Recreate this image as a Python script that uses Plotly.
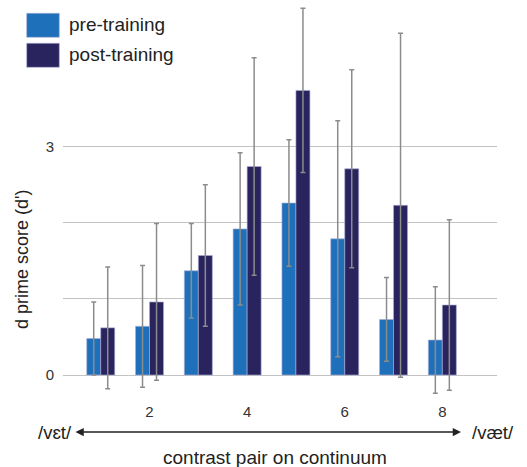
import plotly.graph_objects as go

# contrast pairs along the /vɛt/ - /væt/ continuum
pairs = [1, 2, 3, 4, 5, 6, 7, 8]
pre_mean = [0.48, 0.64, 1.37, 1.92, 2.26, 1.79, 0.73, 0.46]
pre_err = [0.48, 0.80, 0.62, 1.00, 0.83, 1.55, 0.55, 0.70]
post_mean = [0.62, 0.96, 1.57, 2.74, 3.74, 2.71, 2.23, 0.92]
post_err = [0.80, 1.03, 0.93, 1.43, 1.08, 1.30, 2.26, 1.12]
x_ticks = [2, 4, 6, 8]
y_ticks = [0, 1, 2, 3]
y_labels = ["0", "", "", "3"]
series_names = ["pre-training", "post-training"]

PRE_COLOR = "#1f70ba"
POST_COLOR = "#29235e"
ERR_COLOR = "#8c8c8c"
FONT = "Liberation Sans, Arial, sans-serif"

W, H = 527, 467
L, R, T, B = 63, 30, 0, 69
pw, ph = W - L - R, H - T - B


def px(x):
    return (x - L) / pw


def py(y):
    return (H - B - y) / ph


fig = go.Figure()
for name, mean, err, color in [
    (series_names[0], pre_mean, pre_err, PRE_COLOR),
    (series_names[1], post_mean, post_err, POST_COLOR),
]:
    fig.add_trace(go.Bar(
        x=pairs, y=mean, name=name,
        marker=dict(color=color, line=dict(color="rgba(170,175,215,0.9)", width=0.7)),
        error_y=dict(type="data", array=err, visible=True,
                     color=ERR_COLOR, thickness=1.5, width=2.5),
        showlegend=False,
    ))

shapes = []
annotations = []

# legend swatches and labels
for i, (name, color) in enumerate([(series_names[0], PRE_COLOR), (series_names[1], POST_COLOR)]):
    y0 = 13.3 + i * 30
    shapes.append(dict(type="rect", xref="paper", yref="paper",
                       x0=px(26.7), x1=px(59.3), y0=py(y0), y1=py(y0 + 24),
                       fillcolor=color, line=dict(color="rgba(170,175,215,0.9)", width=0.7)))
    annotations.append(dict(text=name, xref="paper", yref="paper",
                            x=px(67), y=py(y0 + 11.5), xanchor="left", yanchor="middle",
                            showarrow=False, font=dict(family=FONT, size=19, color="#222")))

# y-axis title
annotations.append(dict(text="d prime score (d')", xref="paper", yref="paper",
                        x=px(22), y=py(260), textangle=-90, showarrow=False,
                        xanchor="center", yanchor="middle",
                        font=dict(family=FONT, size=18, color="#222")))

# continuum endpoints and double arrow
annotations.append(dict(text="/vɛt/", xref="paper", yref="paper", x=px(55), y=py(432),
                        showarrow=False, xanchor="center", yanchor="middle",
                        font=dict(family=FONT, size=18.5, color="#222")))
annotations.append(dict(text="/væt/", xref="paper", yref="paper", x=px(493), y=py(432),
                        showarrow=False, xanchor="center", yanchor="middle",
                        font=dict(family=FONT, size=18.5, color="#222")))
annotations.append(dict(text="", xref="paper", yref="paper", x=px(461), y=py(432),
                        ax=-(461 - 74), ay=0, showarrow=True, arrowhead=2,
                        arrowside="end+start", arrowsize=1.1, arrowwidth=1.5,
                        arrowcolor="#222"))
annotations.append(dict(text="contrast pair on continuum", xref="paper", yref="paper",
                        x=px(275), y=py(457), showarrow=False,
                        xanchor="center", yanchor="middle",
                        font=dict(family=FONT, size=19, color="#222")))

fig.update_layout(
    width=W, height=H,
    margin=dict(l=L, r=R, t=T, b=B),
    paper_bgcolor="white", plot_bgcolor="white",
    barmode="group", bargap=0.426, bargroupgap=0,
    font=dict(family=FONT, color="#222"),
    shapes=shapes, annotations=annotations,
    xaxis=dict(range=[0.227, 9.12], tickvals=x_ticks, ticktext=[str(v) for v in x_ticks],
               showgrid=False, zeroline=False, showline=False, ticks="",
               tickfont=dict(size=15, color="#333"), ticklabelstandoff=3),
    yaxis=dict(range=[-0.302, 4.928], tickvals=y_ticks, ticktext=y_labels,
               showgrid=True, gridcolor="#c2c2c2", gridwidth=1.2,
               zeroline=False, showline=False, ticks="",
               tickfont=dict(size=15, color="#333"), ticklabelstandoff=8),
)

fig.write_html("out.html")
